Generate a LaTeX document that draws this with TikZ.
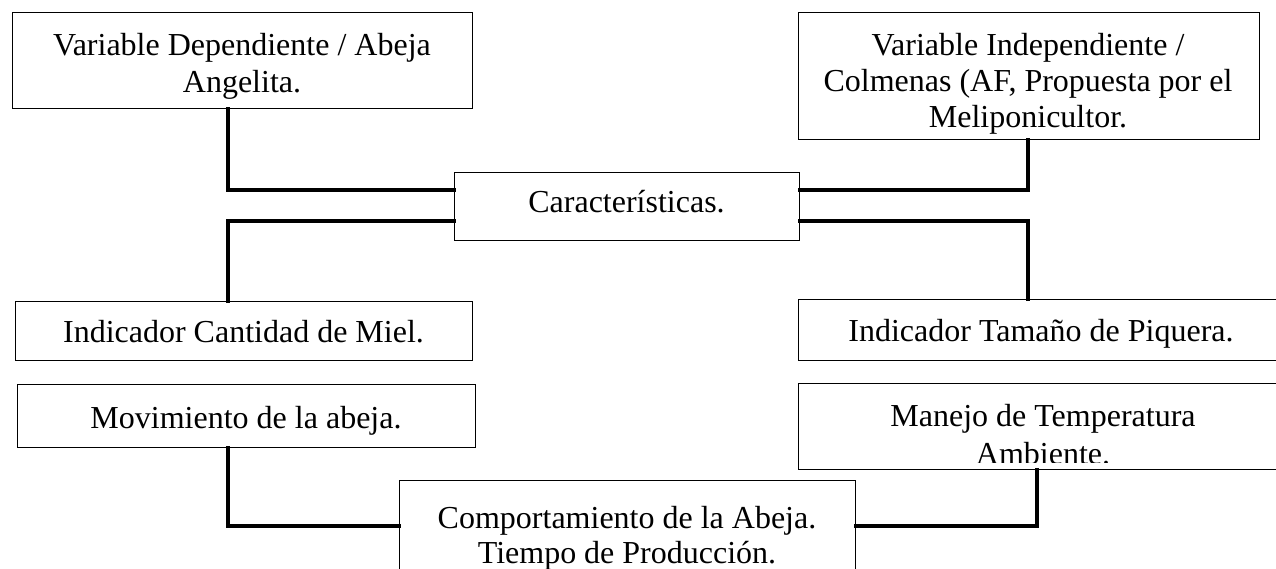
\documentclass[tikz,border=0pt]{standalone}
\usepackage{fontspec}
\setmainfont{Liberation Serif}
\begin{document}
\begin{tikzpicture}[x=1pt,y=-1pt,
  boxn/.style={draw=black,line width=1.2pt,rectangle,inner sep=0pt,anchor=north west},
  txt/.style={inner sep=0pt,anchor=base,align=center,font=\fontsize{32}{36.8}\selectfont},
  conn/.style={draw=black,line width=3.5pt,line cap=rect}]
\useasboundingbox (0,0) rectangle (1276,569);
\fill[white] (0,0) rectangle (1276,569);
\clip (0,0) rectangle (1276,569);
% boxes
\node[boxn,minimum width=460pt,minimum height=96pt] (A) at (12,12) {};
\node[boxn,minimum width=461pt,minimum height=127pt] (B) at (798,12) {};
\node[boxn,minimum width=345pt,minimum height=68pt] (C) at (454,172) {};
\node[boxn,minimum width=457pt,minimum height=59pt] (D) at (15,301) {};
\node[boxn,minimum width=486pt,minimum height=61pt] (F) at (798,299) {};
\node[boxn,minimum width=458pt,minimum height=63pt] (E) at (17,384) {};
\node[boxn,minimum width=490pt,minimum height=86pt] (G) at (798,383) {};
\node[boxn,minimum width=456pt,minimum height=120pt] (H) at (399,480) {};
% connector coordinates
\coordinate (xL) at (228,0);
\coordinate (xR) at (1028,0);
\coordinate (xG) at (1037,0);
\coordinate (y1) at (0,190);
\coordinate (y2) at (0,221);
\coordinate (y3) at (0,526);
% connectors
\draw[conn] (xL |- A.south) |- (C.west |- y1);
\draw[conn] (xR |- B.south) |- (C.east |- y1);
\draw[conn] (C.west |- y2) -| (xL |- D.north);
\draw[conn] (C.east |- y2) -| (xR |- F.north);
\draw[conn] (xL |- E.south) |- (H.west |- y3);
\draw[conn] (xG |- G.south) |- (H.east |- y3);
% texts
\node[txt] (tA1) at (242,56) {Variable Dependiente / Abeja};
\node[txt] (tA2) at (242,93) {Angelita.};
\node[txt] (tB1) at (1028,56) {Variable Independiente /};
\node[txt] (tB2) at (1028,92) {Colmenas (AF, Propuesta por el};
\node[txt] (tB3) at (1028,128) {Meliponicultor.};
\node[txt] (tC) at (626.5,213) {Características.};
\node[txt] (tD) at (243.5,342) {Indicador Cantidad de Miel.};
\node[txt] (tE) at (246,428) {Movimiento de la abeja.};
\node[txt] (tF) at (1041,341) {Indicador Tamaño de Piquera.};
\begin{scope}
\clip (798,383) rectangle (1290,462.5);
\node[txt] (tG1) at (1043,426) {Manejo de Temperatura};
\node[txt] (tG2) at (1043,464) {Ambiente.};
\end{scope}
\node[txt] (tH1) at (627,528) {Comportamiento de la Abeja.};
\node[txt] (tH2) at (627,563) {Tiempo de Producción.};
\end{tikzpicture}
\end{document}
